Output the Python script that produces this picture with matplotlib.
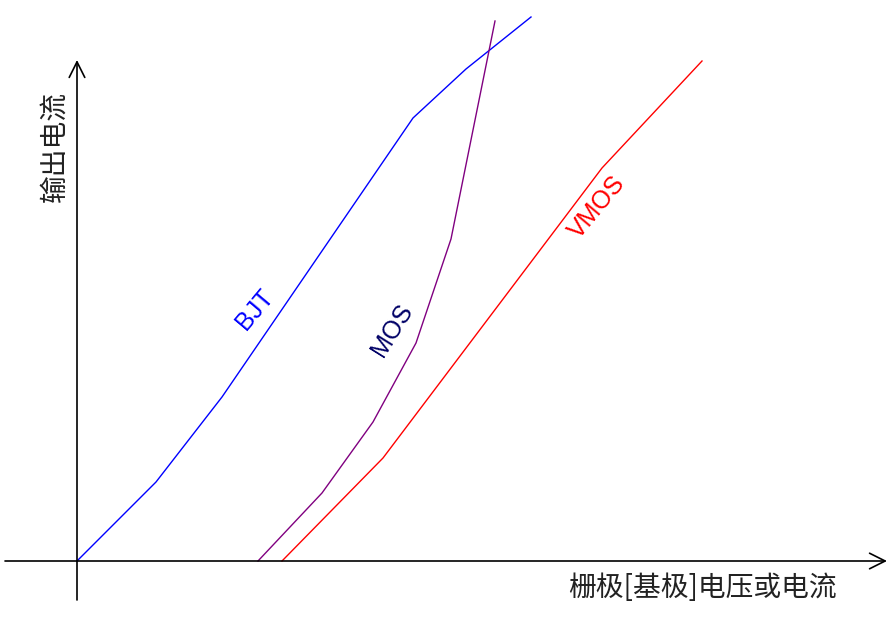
import matplotlib.pyplot as plt

plt.rcParams['font.family'] = ['Noto Sans CJK SC', 'DejaVu Sans']

# curve data (arbitrary units, origin at axes crossing)
bjt_x = [0, 7.9, 14.5, 33.6, 38.9, 45.4]
bjt_y = [0, 7.9, 16.4, 44.3, 49.2, 54.4]
mos_x = [18.1, 24.5, 29.6, 33.9, 37.4, 41.8]
mos_y = [0, 6.8, 13.9, 21.8, 32.2, 54.0]
vmos_x = [20.5, 30.6, 52.5, 62.5]
vmos_y = [0, 10.3, 39.3, 50.0]

xlabel = '栅极[基极]电压或电流'
ylabel = '输出电流'

fig = plt.figure(figsize=(8.89, 6.19), dpi=100)
ax = fig.add_axes([0, 0, 1, 1])
ax.set_xlim(-7.7, 81.2)
ax.set_ylim(-5.8, 56.1)
ax.axis('off')

# axes with open arrow heads
arrow = dict(arrowstyle='->', color='black', lw=1.2, mutation_scale=28,
             shrinkA=0, shrinkB=0)
ax.annotate('', xy=(81.0, 0), xytext=(-7.2, 0), arrowprops=arrow)
ax.annotate('', xy=(0, 50.1), xytext=(0, -3.9), arrowprops=arrow)

ax.plot(bjt_x, bjt_y, color='blue', lw=1)
ax.plot(mos_x, mos_y, color='purple', lw=1)
ax.plot(vmos_x, vmos_y, color='red', lw=1)

lab = dict(fontsize=18, ha='center', va='center', family='Liberation Sans')
ax.text(17.8, 25.1, 'BJT', color='blue', rotation=50, **lab)
ax.text(31.5, 23.1, 'MOS', color='#000066', rotation=58, **lab)
ax.text(52.0, 35.4, 'VMOS', color='red', rotation=50, **lab)

ax.text(62.5, -2.7, xlabel, fontsize=20, ha='center', va='center',
        color='#222222')
ax.text(-2.2, 41.4, ylabel, fontsize=20, rotation=90, ha='center',
        va='center', color='#222222')

plt.savefig('out.png', dpi=100)
